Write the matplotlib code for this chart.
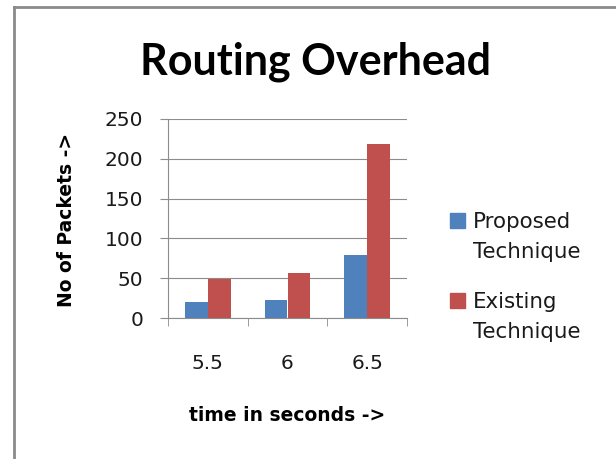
import matplotlib.pyplot as plt
import numpy as np
from matplotlib.lines import Line2D
from matplotlib.patches import Rectangle

# data
times = ['5.5', '6', '6.5']
proposed = [20, 23, 79]
existing = [49, 57, 218]
series_labels = ['Proposed\nTechnique', 'Existing\nTechnique']
colors = ['#4F81BD', '#C0504D']

plt.rcParams['font.family'] = ['DejaVu Sans']

fig = plt.figure(figsize=(6.16, 4.59), dpi=100)
ax = fig.add_axes([168 / 616, 1 - 318 / 459, 239 / 616, 199 / 459])

x = np.arange(len(times))
w = 0.285
ax.bar(x - w / 2, proposed, w, color=colors[0], zorder=3)
ax.bar(x + w / 2, existing, w, color=colors[1], zorder=3)

ax.set_xlim(-0.5, len(times) - 0.5)
ax.set_ylim(0, 250)
ax.set_yticks(range(0, 251, 50))
ax.grid(axis='y', color='#8c8c8c', linewidth=0.8, zorder=0)

for s in ['top', 'right']:
    ax.spines[s].set_visible(False)
for s in ['left', 'bottom']:
    ax.spines[s].set_color('#8c8c8c')

ax.set_xticks(x)
ax.set_xticklabels(times)
ax.set_xticks(np.arange(len(times) + 1) - 0.5, minor=True)
ax.tick_params(axis='x', which='major', length=0, pad=26, labelsize=14.5, colors='#1a1a1a')
ax.tick_params(axis='x', which='minor', length=6, color='#8c8c8c')
ax.tick_params(axis='y', length=6, color='#8c8c8c', pad=12, labelsize=14.5, labelcolor='#1a1a1a')

fig.text(316 / 616, 1 - 75 / 459, 'Routing Overhead', ha='center', va='baseline',
         fontsize=31, fontweight='bold', family=['Lato', 'DejaVu Sans'])
fig.text(287 / 616, 1 - 421 / 459, 'time in seconds ->', ha='center', va='baseline',
         fontsize=13.5, fontweight='bold')
fig.text(66 / 616, 1 - 220 / 459, 'No of Packets ->', ha='center', va='center',
         rotation=90, fontsize=13.5, fontweight='bold')

# legend drawn by hand so the square sits on the first text line
leg_top = [228, 308]
for lab, col, base in zip(series_labels, colors, leg_top):
    fig.add_artist(Rectangle((450 / 616, 1 - base / 459), 15 / 616, 15 / 459,
                             color=col, transform=fig.transFigure))
    first, second = lab.split('\n')
    fig.text(473 / 616, 1 - base / 459, first, ha='left', va='baseline',
             fontsize=15.4, color='#1a1a1a')
    fig.text(473 / 616, 1 - (base + 30) / 459, second, ha='left', va='baseline',
             fontsize=15.4, color='#1a1a1a')

# outer chart border
fig.add_artist(Line2D([14 / 616, 14 / 616], [0, 1 - 7 / 459], color='#8a8a8a', lw=2,
                      transform=fig.transFigure))
fig.add_artist(Line2D([14 / 616, 1], [1 - 7 / 459, 1 - 7 / 459], color='#8a8a8a', lw=2,
                      transform=fig.transFigure))

fig.savefig('out.png', dpi=100)
